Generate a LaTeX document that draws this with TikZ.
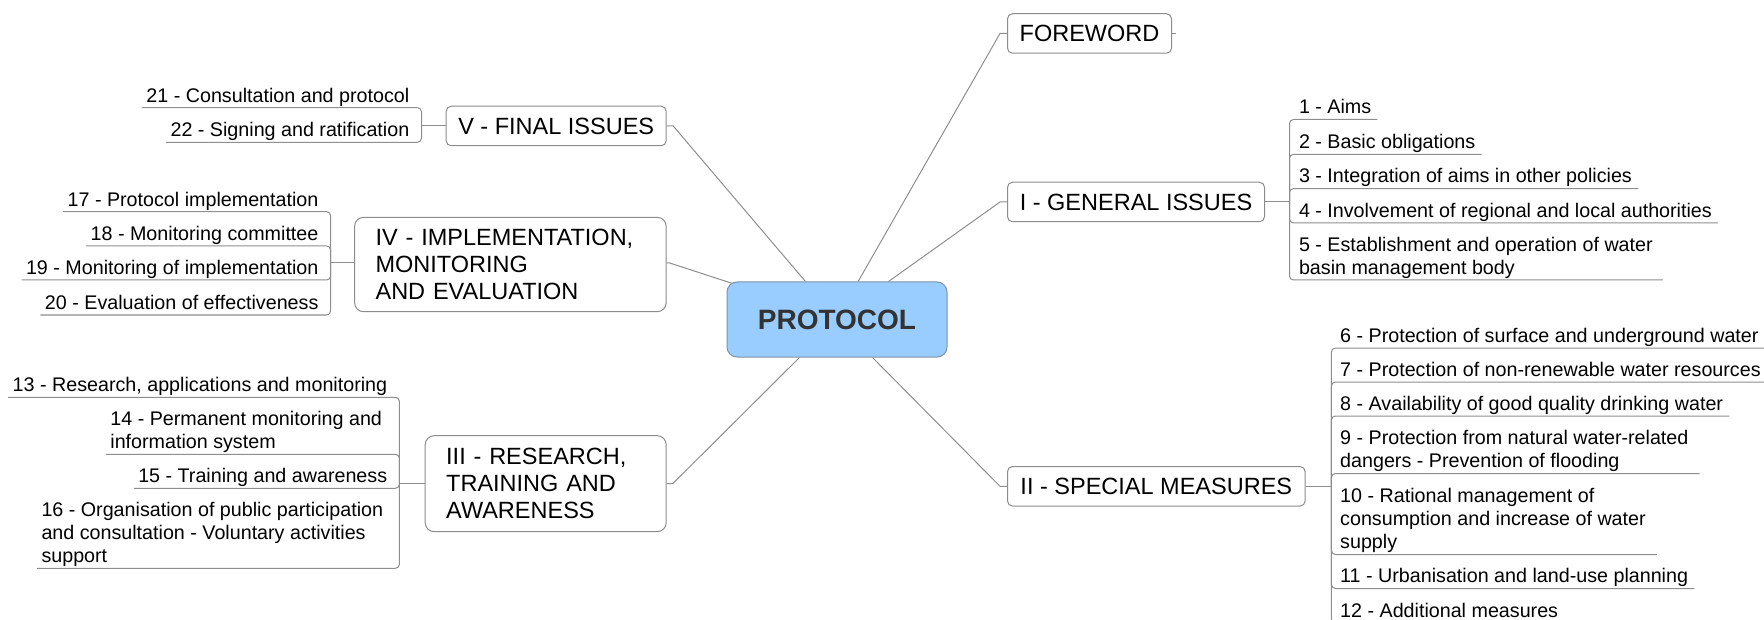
\documentclass[tikz,border=0pt]{standalone}
\usepackage{fontspec}
\setmainfont{Liberation Sans}
\usetikzlibrary{calc}
\definecolor{linegray}{HTML}{8E8E8E}
\definecolor{boxgray}{HTML}{8C8C8C}
\definecolor{rootfill}{HTML}{99CCFF}
\definecolor{rootdraw}{HTML}{7F93A8}
\definecolor{roottext}{HTML}{333333}
\begin{document}
\begin{tikzpicture}[x=1pt,y=-1pt,
  conn/.style={draw=linegray, line width=1pt},
  bracket/.style={draw=linegray, line width=1pt, rounded corners=4pt},
  topic/.style={draw=boxgray, line width=1pt, fill=white, rounded corners=5pt,
    inner xsep=11pt, inner ysep=0pt, minimum height=39.5pt,
    font=\fontsize{23.5}{27}\selectfont, text=black},
  bigtopic/.style={topic, rounded corners=9pt, align=left, inner xsep=21pt},
  root/.style={draw=rootdraw, line width=1pt, fill=rootfill, rounded corners=10pt,
    minimum width=220pt, minimum height=75pt, inner sep=0pt,
    font=\fontsize{28}{32}\selectfont\bfseries, text=roottext},
  itemR/.style={anchor=south west, inner sep=0pt, yshift=-1.5pt,
    font=\fontsize{19.7}{23.2}\selectfont, align=left, text=black,
    execute at end node=\strut},
  itemL/.style={itemR, anchor=south east, align=right},
  itemLL/.style={itemR, anchor=south west, align=left}
]
\clip (0,0) rectangle (1764,620);

% central node
\node[root] (P) at (837,319.5) {PROTOCOL};

% main topics
\node[topic, anchor=west, minimum width=164pt] (F) at (1007,33.5) {FOREWORD};
\node[topic, anchor=west, minimum width=257pt] (G) at (1007,202) {I - GENERAL ISSUES};
\node[topic, anchor=west, minimum width=297.6pt] (S) at (1007,486.3) {II - SPECIAL MEASURES};
\node[topic, anchor=east, minimum width=220pt] (V) at (666.7,126) {V - FINAL ISSUES};
\node[bigtopic, anchor=east, text width=269.6pt, minimum height=94.4pt] (IV) at (666.7,264.5)
  {IV - IMPLEMENTATION,\\MONITORING\\AND EVALUATION};
\node[bigtopic, anchor=east, text width=199pt, minimum height=96pt] (III) at (666.7,483.7)
  {III - RESEARCH,\\TRAINING AND\\AWARENESS};

% connector start points on the central node
\coordinate (pF) at ($(P.north west)+(131.6,0)$);
\coordinate (pG) at ($(P.north west)+(162,0)$);
\coordinate (pV) at ($(P.north west)+(79,0)$);
\coordinate (pIV) at ($(P.north west)+(5.5,1.8)$);
\coordinate (pS) at ($(P.south west)+(146,0)$);
\coordinate (pIII) at ($(P.south west)+(73,0)$);

\draw[conn] (pF) -- ($(F.west)+(-7,0)$) -- (F.west);
\draw[conn] (pG) -- ($(G.west)+(-7,0)$) -- (G.west);
\draw[conn] (pS) -- ($(S.west)+(-7,0)$) -- (S.west);
\draw[conn] (pV) -- ($(V.east)+(6.5,0)$) -- (V.east);
\draw[conn] (pIV) -- ($(IV.east)+(3,-1.5)$) -- ($(IV.east)+(0,-1.5)$);
\draw[conn] (pIII) -- ($(III.east)+(6,0)$) -- (III.east);
\draw[conn] (F.east) -- ++(3.5,0);

% junction points of the sub-topic brackets
\coordinate (jG) at (1289.5,202);
\coordinate (jS) at (1331.4,486.3);
\coordinate (jV) at (421.5,126);
\coordinate (jIV) at (330.6,263);
\coordinate (jIII) at (399.4,483.7);

\draw[conn] (G.east) -- (jG);
\draw[conn] (S.east) -- (jS);
\draw[conn] (V.west) -- (jV);
\draw[conn] ($(IV.west)+(0,-1.5)$) -- (jIV);
\draw[conn] (III.west) -- (jIII);

% I - GENERAL ISSUES
\node[itemR] (g1) at (1298.8,119.5) {1 - Aims};
\node[itemR] (g2) at (1298.8,154.3) {2 - Basic obligations};
\node[itemR] (g3) at (1298.8,188.6) {3 - Integration of aims in other policies};
\node[itemR] (g4) at (1298.8,222.9) {4 - Involvement of regional and local authorities};
\node[itemR] (g5) at (1298.8,280) {5 - Establishment and operation of water\\basin management body};
\foreach \n/\e in {g1/6,g2/6,g3/6,g4/6,g5/10}
  \draw[bracket] (jG) |- ($(\n.south east)+(\e,-1.5)$);

% II - SPECIAL MEASURES
\node[itemR] (s6) at (1340,348) {6 - Protection of surface and underground water};
\node[itemR] (s7) at (1340,382) {7 - Protection of non-renewable water resources};
\node[itemR] (s8) at (1340,416) {8 - Availability of good quality drinking water};
\node[itemR] (s9) at (1340,473.5) {9 - Protection from natural water-related\\dangers - Prevention of flooding};
\node[itemR] (s10) at (1340,554.5) {10 - Rational management of\\consumption and increase of water\\supply};
\node[itemR] (s11) at (1340,588.5) {11 - Urbanisation and land-use planning};
\node[itemR] (s12) at (1340,622.8) {12 - Additional measures};
\foreach \n/\e in {s6/6,s7/6,s8/6,s9/11,s10/11,s11/6,s12/6}
  \draw[bracket] (jS) |- ($(\n.south east)+(\e,-1.5)$);

% V - FINAL ISSUES
\node[itemL] (v21) at (409.5,107.7) {21 - Consultation and protocol};
\node[itemL] (v22) at (409.5,142.3) {22 - Signing and ratification};
\foreach \n in {v21,v22}
  \draw[bracket] (jV) |- ($(\n.south west)+(-4.3,-1.5)$);

% IV - IMPLEMENTATION, MONITORING AND EVALUATION
\node[itemL] (i17) at (318.6,211.7) {17 - Protocol implementation};
\node[itemL] (i18) at (318.6,246) {18 - Monitoring committee};
\node[itemL] (i19) at (318.6,280) {19 - Monitoring of implementation};
\node[itemL] (i20) at (318.6,315) {20 - Evaluation of effectiveness};
\foreach \n in {i17,i18,i19,i20}
  \draw[bracket] (jIV) |- ($(\n.south west)+(-4.3,-1.5)$);

% III - RESEARCH, TRAINING AND AWARENESS
\node[itemL] (r13) at (387.4,397.3) {13 - Research, applications and monitoring};
\node[itemLL] (r14) at (110.2,454.3) {14 - Permanent monitoring and\\information system};
\node[itemL] (r15) at (387.4,488.3) {15 - Training and awareness};
\node[itemLL] (r16) at (41.3,568.3) {16 - Organisation of public participation\\and consultation - Voluntary activities\\support};
\foreach \n in {r13,r14,r15,r16}
  \draw[bracket] (jIII) |- ($(\n.south west)+(-4.3,-1.5)$);

\end{tikzpicture}
\end{document}
